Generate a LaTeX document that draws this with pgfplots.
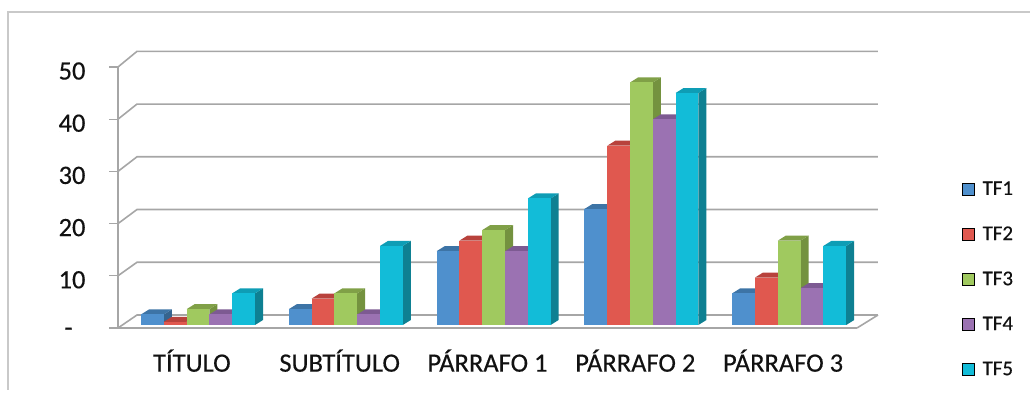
\documentclass[border=0pt]{standalone}
\usepackage{pgfplots}
\pgfplotsset{compat=1.18}
\usepackage{fontspec}
\setmainfont{Carlito}
\newfontfamily\labelfont[FakeBold=0.35]{Carlito}
\definecolor{gridgray}{HTML}{A6A6A6}
\definecolor{framegray}{HTML}{C9C9C9}
\definecolor{txt}{HTML}{111111}
\definecolor{fA}{HTML}{4F90CD}\definecolor{sA}{HTML}{35648F}\definecolor{tA}{HTML}{3D74A6}
\definecolor{fB}{HTML}{E0584F}\definecolor{sB}{HTML}{A83A35}\definecolor{tB}{HTML}{B8423C}
\definecolor{fC}{HTML}{A0C95F}\definecolor{sC}{HTML}{74923F}\definecolor{tC}{HTML}{80A047}
\definecolor{fD}{HTML}{9B72B2}\definecolor{sD}{HTML}{6F5282}\definecolor{tD}{HTML}{7D5A92}
\definecolor{fE}{HTML}{12BCD8}\definecolor{sE}{HTML}{0E8092}\definecolor{tE}{HTML}{0E9DB5}

% horizontal scale: one category spans 147.8 units; vertical: 10 values span 52.2 units
\newcommand{\threeDbar}[6]{% category, series index, value, front, side, top
  \pgfmathsetmacro{\xa}{#1+(23+22.8*#2)/147.8}
  \pgfmathsetmacro{\xb}{\xa+22.8/147.8}
  \pgfmathsetmacro{\xc}{\xb+8/147.8}
  \pgfmathsetmacro{\xd}{\xa+8/147.8}
  \pgfmathsetmacro{\ya}{3/5.22}
  \pgfmathsetmacro{\yb}{\ya+#3*1.01}
  \pgfmathsetmacro{\yc}{\yb+5/5.22}
  \pgfmathsetmacro{\yd}{\ya+5/5.22}
  \edef\barfaces{%
    \noexpand\addplot[forget plot,draw=none,fill=#5] coordinates {(\xb,\ya)(\xc,\yd)(\xc,\yc)(\xb,\yb)} --cycle;
    \noexpand\addplot[forget plot,draw=none,fill=#6] coordinates {(\xa,\yb)(\xd,\yc)(\xc,\yc)(\xb,\yb)} --cycle;
    \noexpand\addplot[forget plot,draw=none,fill=#4] coordinates {(\xa,\ya)(\xa,\yb)(\xb,\yb)(\xb,\ya)} --cycle;
  }\barfaces
}
\newcommand{\barset}[6]{% category and the values of TF1..TF5
  \threeDbar{#1}{0}{#2}{fA}{sA}{tA}
  \threeDbar{#1}{1}{#3}{fB}{sB}{tB}
  \threeDbar{#1}{2}{#4}{fC}{sC}{tC}
  \threeDbar{#1}{3}{#5}{fD}{sD}{tD}
  \threeDbar{#1}{4}{#6}{fE}{sE}{tE}
}
\newcommand{\backline}[2]{% value on the front plane, value on the back wall
  \addplot[forget plot,gridgray,line width=1.6pt] coordinates {(0,#1)(0.1286,#2)(5.142,#2)};
}

\begin{document}
\begin{tikzpicture}[x=1pt,y=1pt]
\path[use as bounding box] (0,0) rectangle (1030,393);
\draw[framegray,line width=1.4pt] (8,3) -- (8,381) -- (1030,381);
\begin{axis}[
  at={(118pt,65pt)},anchor=south west,
  scale only axis,width=739pt,height=261pt,
  xmin=0,xmax=5,ymin=0,ymax=50,clip=false,
  axis x line=bottom,axis y line=left,
  axis line style={gridgray,line width=1.6pt,-},
  tick style={gridgray,line width=1.4pt},
  tick align=outside,
  ytick={0,10,20,30,40,50},
  yticklabels={{\raisebox{-1pt}{-}\hspace{13pt}\mbox{}},10,20,30,40,50},
  major tick length=9pt,
  xtick={0.5,1.5,2.5,3.5,4.5},
  xticklabels={TÍTULO,SUBTÍTULO,PÁRRAFO 1,PÁRRAFO 2,PÁRRAFO 3},
  x tick style={draw=none},
  minor xtick={0,1,2,3,4,5},
  minor tick length=9pt,
  minor x tick style={gridgray,line width=1.4pt},
  tick label style={font=\labelfont\fontsize{26.5}{26.5}\selectfont,text=txt},
  /pgf/number format/assume math mode=true,
  yticklabel style={xshift=-20pt,yshift=-4pt},
  xticklabel style={yshift=-9pt},
  legend style={at={(axis cs:5.71,28.5)},anchor=north west,draw=none,fill=none,
    font=\labelfont\fontsize{21}{21}\selectfont,text=txt,row sep=26pt,inner sep=0pt},
  legend cell align=left,
  legend image code/.code={\fill[#1] (0pt,-6pt) rectangle (12pt,6pt);},
]
% floor and back wall
\backline{0}{2.49}
\addplot[forget plot,gridgray,line width=1.6pt] coordinates {(5,0)(5.142,2.49)};
\backline{10}{12.6}
\backline{20}{22.7}
\backline{30}{32.8}
\backline{40}{42.9}
\backline{50}{53}
% columns, category by category
\barset{0}{2}{0.6}{3}{2}{6}
\barset{1}{3}{5}{6}{2}{15}
\barset{2}{14}{16}{18}{14}{24}
\barset{3}{22}{34}{46}{39}{44}
\barset{4}{6}{9}{16}{7}{15}
\addlegendimage{fill=fA}\addlegendentry{\hspace{6pt}TF1}
\addlegendimage{fill=fB}\addlegendentry{\hspace{6pt}TF2}
\addlegendimage{fill=fC}\addlegendentry{\hspace{6pt}TF3}
\addlegendimage{fill=fD}\addlegendentry{\hspace{6pt}TF4}
\addlegendimage{fill=fE}\addlegendentry{\hspace{6pt}TF5}
\end{axis}
\end{tikzpicture}
\end{document}
